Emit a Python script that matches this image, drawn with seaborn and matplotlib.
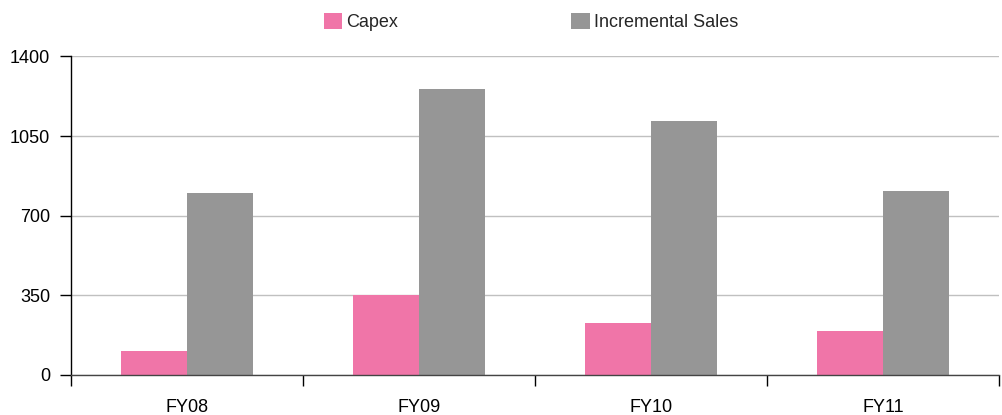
import matplotlib
matplotlib.use("Agg")
import matplotlib.pyplot as plt
from matplotlib.ticker import FixedLocator
import seaborn as sns
import pandas as pd

years = ["FY08", "FY09", "FY10", "FY11"]
capex = [104, 350, 228, 192]
incremental_sales = [799, 1257, 1116, 808]
y_ticks = [0, 350, 700, 1050, 1400]

series_names = ["Capex", "Incremental Sales"]
palette = {"Capex": "#F075A8", "Incremental Sales": "#969696"}

df = pd.DataFrame({
    "Year": years * 2,
    "Series": [series_names[0]] * len(years) + [series_names[1]] * len(years),
    "Value": capex + incremental_sales,
})

sns.set_theme(style="white")
plt.rcParams["font.family"] = ["Liberation Sans", "DejaVu Sans"]

fig = plt.figure(figsize=(10.03, 4.15), dpi=100)
ax = fig.add_axes([0.0708, 0.0964, 0.9252, 0.7676])

sns.barplot(data=df, x="Year", y="Value", hue="Series", order=years,
            hue_order=series_names, palette=palette, width=0.57, gap=0,
            saturation=1, edgecolor="none", linewidth=0, ax=ax)

ax.set_ylim(0, 1400)
ax.set_xlim(-0.5, len(years) - 0.5)
ax.set_yticks(y_ticks)
ax.set_yticklabels([str(v) for v in y_ticks])
ax.yaxis.grid(True, color="#C0C0C0", linewidth=1.0)
ax.set_axisbelow(True)
ax.set_xlabel("")
ax.set_ylabel("")

for side in ("top", "right"):
    ax.spines[side].set_visible(False)
ax.spines["left"].set_color("black")
ax.spines["left"].set_linewidth(1.0)
ax.spines["bottom"].set_color("#444444")
ax.spines["bottom"].set_linewidth(1.0)

# category boundary ticks on the x axis, value ticks on the y axis
ax.xaxis.set_minor_locator(FixedLocator([i - 0.5 for i in range(len(years) + 1)]))
ax.tick_params(axis="x", which="major", length=0, pad=17, labelsize=13, colors="black")
ax.tick_params(axis="x", which="minor", bottom=True, length=8, width=1, color="black")
ax.tick_params(axis="y", which="major", left=True, length=8, width=1, color="black",
               labelsize=13, labelcolor="black", pad=7)

handles, labels = ax.get_legend_handles_labels()
ax.legend(handles, labels, loc="center", bbox_to_anchor=(0.4957, 1.109), ncol=2,
          frameon=False, fontsize=13, handlelength=1.0, handleheight=1.0,
          handletextpad=0.25, columnspacing=9.6, borderaxespad=0, borderpad=0)

fig.savefig("out.png", dpi=100)
